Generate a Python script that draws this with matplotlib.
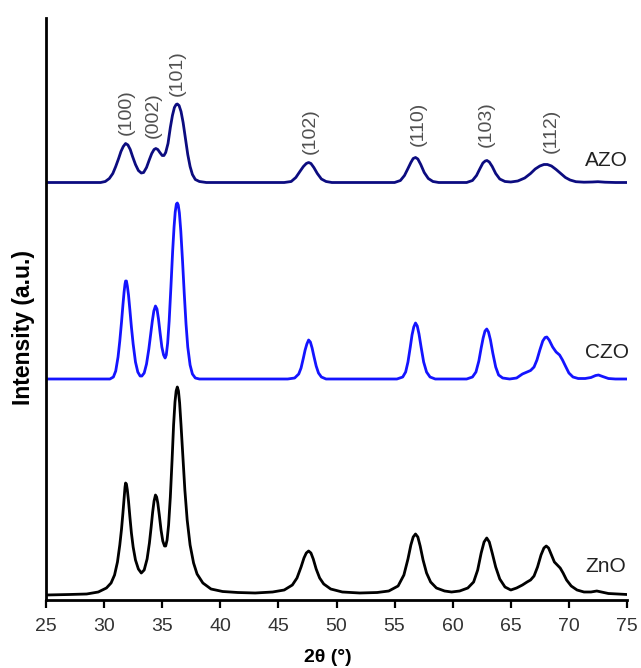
import matplotlib
matplotlib.use("Agg")
import matplotlib.pyplot as plt

# 2theta (deg) and intensity above each pattern's own baseline (a.u.)
zno_2theta = [25, 27, 28.5, 29.5, 30.2, 30.6, 30.9, 31.15, 31.35, 31.5, 31.62, 31.72, 31.8,
              31.85, 31.92, 32.0, 32.1, 32.22, 32.35, 32.5, 32.7, 32.95, 33.2, 33.45, 33.7,
              33.9, 34.05, 34.18, 34.3, 34.42, 34.52, 34.62, 34.75, 34.9, 35.05, 35.2, 35.3,
              35.42, 35.55, 35.7, 35.85, 35.98, 36.1, 36.2, 36.3, 36.4, 36.5, 36.62, 36.78,
              36.95, 37.15, 37.4, 37.7, 38.0, 38.5, 39.2, 40.2, 41.5, 43, 44.5, 45.5, 46.2,
              46.6, 46.95, 47.2, 47.4, 47.6, 47.8, 48.0, 48.25, 48.55, 48.9, 49.5, 50.5, 52,
              53.5, 54.5, 55.3, 55.8, 56.15, 56.4, 56.6, 56.8, 57.0, 57.2, 57.45, 57.75, 58.1,
              58.6, 59.3, 59.9, 60.6, 61.3, 61.8, 62.15, 62.45, 62.7, 62.93, 63.15, 63.4, 63.7,
              64.05, 64.5, 65.0, 65.5, 66.0, 66.4, 66.7, 67.0, 67.3, 67.6, 67.85, 68.05, 68.25,
              68.5, 68.75, 69.0, 69.25, 69.5, 69.8, 70.2, 70.7, 71.3, 71.9, 72.4, 72.8, 73.4,
              74.2, 75]
zno_int = [0, 0.5, 1, 3, 7, 12, 20, 33, 50, 66, 82, 97, 108,
           112, 111, 105, 94, 78, 62, 48, 35, 26, 22, 25, 36,
           52, 68, 83, 94, 100, 98, 92, 80, 65, 54, 49, 49,
           55, 70, 98, 135, 170, 193, 204, 208, 204, 192, 170, 138,
           105, 75, 50, 32, 21, 12, 6, 3.5, 2.5, 2, 3, 5, 10,
           17, 28, 37, 42, 44, 42, 36, 26, 17, 11, 6, 3, 2,
           2.5, 4, 9, 20, 36, 50, 58, 61, 58, 49, 35, 22, 13,
           7, 4, 3, 4, 7, 13, 25, 42, 53, 57, 53, 42, 28,
           16, 8, 5, 7, 10, 13, 15, 19, 28, 40, 47, 49, 47,
           40, 33, 30, 27, 22, 15, 9, 5, 3, 3, 4, 3, 1.5,
           1, 0.5]

czo_2theta = [25, 30.5, 30.8, 31.0, 31.2, 31.35, 31.5, 31.62, 31.72, 31.8, 31.85, 31.92, 32.0,
              32.1, 32.22, 32.35, 32.5, 32.7, 32.9, 33.1, 33.25, 33.45, 33.65, 33.85, 34.0,
              34.15, 34.28, 34.42, 34.55, 34.68, 34.82, 34.97, 35.12, 35.25, 35.35, 35.47,
              35.6, 35.75, 35.9, 36.02, 36.12, 36.22, 36.3, 36.38, 36.48, 36.6, 36.75, 36.9,
              37.05, 37.2, 37.4, 37.6, 37.85, 38.2, 45.8, 46.4, 46.75, 46.95, 47.15, 47.3,
              47.45, 47.6, 47.75, 47.9, 48.05, 48.25, 48.45, 48.7, 49.1, 55.2, 55.7, 55.95,
              56.15, 56.35, 56.5, 56.65, 56.8, 56.95, 57.1, 57.28, 57.5, 57.75, 58.05, 58.5,
              61.2, 61.7, 62.0, 62.25, 62.45, 62.62, 62.78, 62.93, 63.08, 63.25, 63.45, 63.7,
              63.95, 64.3, 64.9, 65.5, 66.0, 66.4, 66.7, 67.0, 67.25, 67.5, 67.75, 67.95,
              68.1, 68.3, 68.6, 68.9, 69.2, 69.45, 69.7, 70.0, 70.35, 70.8, 71.4, 71.9, 72.3,
              72.55, 72.9, 73.4, 74, 75]
czo_int = [0, 0, 2, 8, 22, 38, 57, 74, 87, 95, 98, 98, 93,
           84, 69, 52, 35, 17, 7, 3, 3, 6, 15, 30, 44,
           58, 68, 73, 70, 60, 46, 32, 24, 21, 24, 36,
           58, 92, 128, 152, 167, 175, 176, 174, 166, 148, 118, 85,
           55, 32, 14, 5, 1, 0, 0, 1, 5, 11, 21, 29,
           35, 39, 37, 31, 23, 13, 6, 2, 0, 0, 2, 7,
           17, 32, 44, 52, 56, 53, 45, 32, 17, 7, 2, 0,
           0, 2, 7, 18, 31, 41, 48, 50, 47, 39, 26, 12,
           4, 1, 0, 1, 5, 7, 8.5, 12, 19, 29, 38, 41.5,
           42, 39, 32, 27, 24, 19, 13, 6, 2, 0.5, 0.5, 1.5, 3.5,
           4, 2.5, 0.5, 0, 0]

azo_2theta = [25, 29.7, 30.1, 30.45, 30.75, 31.0, 31.25, 31.45, 31.65, 31.85, 32.05, 32.25,
              32.45, 32.7, 32.95, 33.2, 33.4, 33.65, 33.9, 34.1, 34.3, 34.45, 34.62, 34.8,
              35.0, 35.15, 35.3, 35.5, 35.7, 35.88, 36.05, 36.2, 36.3, 36.45, 36.62, 36.8,
              37.0, 37.2, 37.4, 37.6, 37.85, 38.2, 38.8, 45.5, 46.1, 46.5, 46.85, 47.15, 47.4,
              47.6, 47.8, 48.05, 48.35, 48.7, 49.1, 49.6, 55.0, 55.5, 55.85, 56.15, 56.4, 56.6,
              56.8, 57.0, 57.25, 57.55, 57.9, 58.3, 58.8, 61.2, 61.7, 62.05, 62.35, 62.6, 62.8,
              62.95, 63.15, 63.4, 63.7, 64.05, 64.5, 65.0, 65.6, 66.2, 66.7, 67.1, 67.5, 67.85,
              68.15, 68.5, 68.9, 69.3, 69.7, 70.1, 70.6, 71.3, 72.0, 72.5, 73.1, 74, 75]
azo_int = [0, 0, 1, 4, 9, 16, 24, 31, 36, 39, 37.5, 33,
           26, 18, 12, 9.5, 10, 15, 23, 29, 33, 34, 33, 30,
           27, 27, 30, 39, 55, 67, 75, 78, 78.5, 77, 71, 60,
           44, 28, 16, 8, 3, 1, 0, 0, 1, 5, 11, 16, 19,
           20, 19, 15, 9, 3.5, 1, 0, 0, 2, 7, 14, 20, 24,
           25, 23.5, 18, 10, 4, 1, 0, 0, 2, 7, 14, 19.5, 21.5,
           22, 20.5, 16, 9, 3.5, 1, 0.5, 1.5, 4.5, 9, 13.5, 16.5, 18,
           18, 16.5, 13, 9, 5, 2.5, 0.8, 0.3, 0.5, 0.8, 0.3, 0, 0]

samples = ["ZnO", "CZO", "AZO"]
colors = ["#000000", "#1414ff", "#0c0c80"]
offsets = [5, 221, 417.5]
label_y = [33, 247, 439]
label_x = 71.4

hkl = ["(100)", "(002)", "(101)", "(102)", "(110)", "(103)", "(112)"]
hkl_x = [31.92, 34.25, 36.32, 47.78, 57.0, 62.93, 68.44]
hkl_y = [488, 485, 527, 469, 476, 476, 469]

fig = plt.figure(figsize=(6.41, 6.68), dpi=100)
ax = fig.add_axes([46 / 641, 1 - 600 / 668, 581 / 641, 582 / 668])

curves = [(zno_2theta, zno_int), (czo_2theta, czo_int), (azo_2theta, azo_int)]
for (tt, inten), name, col, off, ly in zip(curves, samples, colors, offsets, label_y):
    ax.plot(tt, [v + off for v in inten], color=col, lw=2.0, solid_joinstyle="round")
    ax.text(label_x, ly, name, fontsize=15, color="#222222", ha="left", va="center",
            family="Liberation Sans")

for lab, x, y in zip(hkl, hkl_x, hkl_y):
    ax.text(x, y, lab, rotation=90, fontsize=14, color="#505050", ha="center", va="center",
            family="Liberation Sans")

ax.set_xlim(25, 75)
ax.set_ylim(0, 582)
ax.set_xticks(range(25, 76, 5))
ax.set_yticks([])
for s in ["top", "right"]:
    ax.spines[s].set_visible(False)
for s in ["left", "bottom"]:
    ax.spines[s].set_linewidth(2)
ax.tick_params(axis="x", direction="out", length=6, width=1.6, labelsize=14, pad=7)
for t in ax.get_xticklabels():
    t.set_family("Liberation Sans")
    t.set_color("#333333")

ax.set_xlabel("2θ (°)", fontsize=14, fontweight="bold", family="Liberation Sans")
ax.set_ylabel("Intensity (a.u.)", fontsize=16.5, fontweight="bold", family="Liberation Sans")
ax.xaxis.set_label_coords(0.485, -0.084)
ax.yaxis.set_label_coords(-0.019, 0.469)

fig.savefig("out.png", dpi=100)
